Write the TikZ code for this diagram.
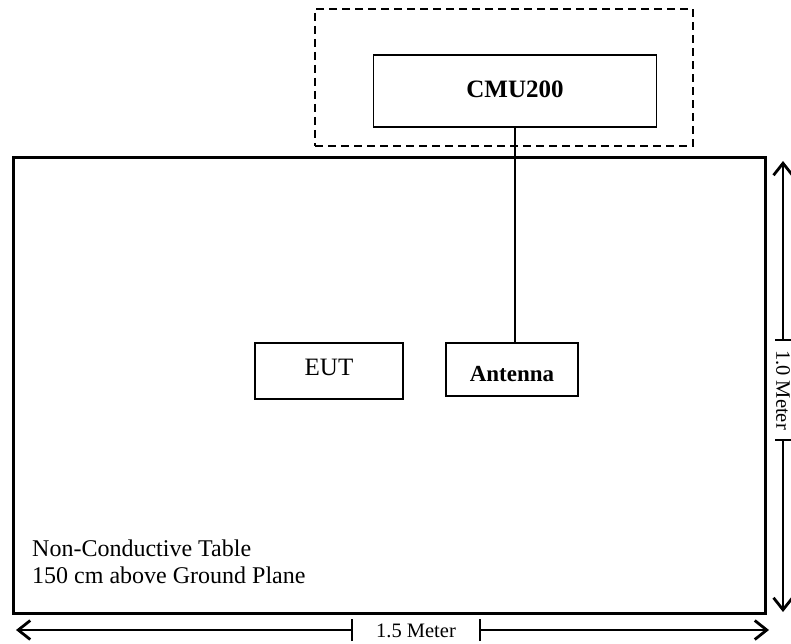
\documentclass[tikz,border=0pt]{standalone}
\usepackage{fontspec}
\setmainfont{Liberation Serif}
\usetikzlibrary{arrows.meta}
\begin{document}
\begin{tikzpicture}[x=1pt,y=-1pt,
  box/.style={draw,line width=1.6pt,inner sep=0pt,rectangle},
  dimarrow/.style={line width=1.3pt,-{Straight Barb[length=12pt,width=19pt,line width=2.8pt]}},
  dimtick/.style={line width=1.3pt},
  dimlabel/.style={font=\fontsize{20.5}{22}\selectfont,inner sep=0pt}]
\useasboundingbox (0,0) rectangle (791,644);
% table
\node[box,line width=3pt,minimum width=752pt,minimum height=455pt] (table) at (389,385.5) {};
% dashed enclosure
\node[draw,dashed,dash pattern=on 8pt off 5pt,line width=1.6pt,minimum width=378pt,minimum height=137pt,inner sep=0pt] (encl) at (504,77.5) {};
% CMU200
\node[box,minimum width=283pt,minimum height=72pt,
  label={[font=\fontsize{25}{27}\selectfont\bfseries,yshift=2pt]center:CMU200}] (cmu) at (515,91) {};
% EUT
\node[box,minimum width=148pt,minimum height=56pt,
  label={[font=\fontsize{25}{27}\selectfont,yshift=4pt]center:EUT}] (eut) at (329,371) {};
% Antenna
\node[box,minimum width=132pt,minimum height=53pt,
  label={[font=\fontsize{23}{25}\selectfont\bfseries,yshift=-5pt]center:Antenna}] (ant) at (512,369.5) {};
\draw[line width=1.6pt] (cmu.south) -- (cmu.south |- ant.north);
% table labels
\node[anchor=base west,inner sep=0pt,font=\fontsize{24}{26}\selectfont] (l1) at (32,556) {Non-Conductive Table};
\node[anchor=base west,inner sep=0pt,font=\fontsize{24}{26}\selectfont] (l2) at (32,583) {150 cm above Ground Plane};
% horizontal dimension
\coordinate (hl) at (16,630);
\coordinate (hr) at (769,630);
\coordinate (ht1) at (352,630);
\coordinate (ht2) at (480,630);
\draw[dimarrow] (ht1) -- (hl);
\draw[dimarrow] (ht2) -- (hr);
\draw[dimtick] ([yshift=-11pt]ht1) -- ([yshift=11pt]ht1);
\draw[dimtick] ([yshift=-11pt]ht2) -- ([yshift=11pt]ht2);
\node[dimlabel] (hlab) at (416,631) {1.5 Meter};
% vertical dimension
\coordinate (vt) at (783,161);
\coordinate (vb) at (783,612);
\coordinate (vt1) at (783,340);
\coordinate (vt2) at (783,440);
\draw[dimarrow] (vt1) -- (vt);
\draw[dimarrow] (vt2) -- (vb);
\draw[dimtick] ([xshift=-8pt]vt1) -- ([xshift=8pt]vt1);
\draw[dimtick] ([xshift=-8pt]vt2) -- ([xshift=8pt]vt2);
\node[dimlabel,rotate=-90] (vlab) at (783,390) {1.0 Meter};
\end{tikzpicture}
\end{document}
